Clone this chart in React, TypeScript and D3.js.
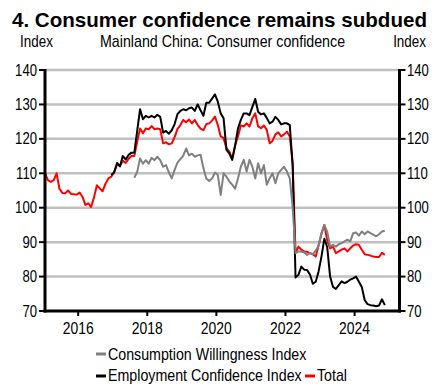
import React from "react";
import * as d3 from "d3";

// monthly, Jan 2015 .. Nov 2024 (null = not published)
const startYear = 2015;

const total = [
  110, 108, 107.5, 108, 110, 105.5, 104.3, 104.2, 105, 104, 103.9, 103.8,
  104.4, 103.2, 100.8, 101.3, 100.2, 103, 106.5, 105.6, 104.8, 107, 108.5, 109,
  110.3, 112.5, 112.2, 113.6, 113, 114.2, 115, 115, 119.2, 123, 121.6, 123,
  122.8, 123.7, 122.8, 123, 122.8, 118.7, 119, 118.4, 118.7, 120.5, 122.9, 124,
  125.5, 124.8, 125.6, 124.5, 125.5, 124, 123, 122.5, 124.3, 124.5, 125.3, 126.5,
  124, 120.7, 120.2, 117.3, 116.3, 114.2, 118.1, 120.7, 123.9, 123.6, 124.5, 123.6,
  126, 127.4, 123.6, 123.1, 123.9, 122.6, 118.7, 119.4, 121.3, 121.9, 120.7, 121.3,
  122.1, 120.7, 113, 86.8, 88.7, 87.8, 87.3, 87.2, 86.8, 86.5, 85.8, 89,
  92.5, 95, 90.5, 88.2, 88.7, 86.8, 87.3, 87.8, 88.2, 87.3, 88.2, 89,
  89.4, 89.2, 87.8, 86.5, 86.3, 86.1, 85.8, 85.7, 85.7, 86.9, 86.3,
];

const employment = [
  null, null, null, null, null, null, null, null, null, null, null, null,
  null, null, null, null, null, null, null, null, null, null, null, 109.5,
  110.3, 113, 112, 115, 114, 115.3, 116, 116, 122.3, 128.6, 125.7, 126.7,
  126.2, 126.7, 126.2, 127, 126.4, 121.8, 122.3, 121.5, 122.5, 124.3, 127.2, 128.1,
  128.6, 128.3, 128.9, 129.1, 128.1, 130, 128.3, 126.7, 130.5, 130.5, 131.7, 132.9,
  130.8, 127.4, 126, 116.8, 115.8, 113.9, 118, 123, 125.5, 127.4, 127.4, 126.9,
  129.3, 131.6, 127.9, 127.1, 127.4, 126.1, 124.5, 125, 126.4, 125.5, 124.2, 124.5,
  124.5, 124, 112, 79.7, 80.5, 82.9, 82, 81.9, 80.6, 77.9, 78.5, 81.5,
  85.8, 91, 88.5, 80, 77, 76.4, 77.5, 78.6, 78.1, 78.5, 79.1, 79.5,
  80, 78.5, 77, 73.2, 72, 71.7, 71.6, 71.4, 71.6, 73.4, 71.7,
];

const consumption = [
  null, null, null, null, null, null, null, null, null, null, null, null,
  null, null, null, null, null, null, null, null, null, null, null, null,
  null, null, null, null, null, null, null, 108.7, 110.4, 114.3, 112.8, 113.8,
  112.8, 114.5, 113.8, 114.8, 113.8, 111.9, 112.4, 110.3, 108.5, 111, 113.1, 114.1,
  115.1, 117.2, 115.2, 115.7, 114.8, 115.2, 115.4, 111.5, 108.5, 107.8, 108.5, 110.2,
  109.5, 103.7, 110, 109, 107.6, 106.7, 105.5, 108.5, 111.9, 113.9, 110.5, 113.9,
  111.9, 108.5, 112.9, 110, 112.4, 106.7, 108.5, 110, 107.1, 110, 111, 111.9,
  110.5, 108.5, 100, 86.8, 87.3, 87.3, 87, 86.3, 86.8, 86.5, 87.5, 89,
  92.5, 95, 93, 88.7, 89.2, 88.7, 89.4, 89.7, 90.2, 90.7, 90.2, 92.6,
  92.8, 91.9, 93.1, 92.3, 93.1, 92.6, 92.2, 91.7, 92.3, 93.1, 93.3,
];

const yTicks = [70, 80, 90, 100, 110, 120, 130, 140];
const xTicks = [2016, 2018, 2020, 2022, 2024];

const title = "4. Consumer confidence remains subdued";
const subtitle = "Mainland China: Consumer confidence";

const series = [
  {name: "Total", values: total, color: "#ff0000"},
  {name: "Employment Confidence Index", values: employment, color: "#000000"},
  {name: "Consumption Willingness Index", values: consumption, color: "#808080"},
];

const font = "'Liberation Sans', Arial, sans-serif";

// text squeezed horizontally around its own anchor point (Arial Narrow look)
const NText = ({x, y, size = 16, sx = 0.89, anchor = "start", dy, children}: any) => (
  <text x={x / sx} y={y} dy={dy} transform={`scale(${sx},1)`} fontSize={size} textAnchor={anchor}>
    {children}
  </text>
);

export default function App() {
  const width = 438;
  const height = 390;
  const left = 45;
  const right = 399.5;
  const top = 70;
  const bottom = 311;

  const x = d3.scaleLinear([2015.04, 2025.3], [left, right]);
  const y = d3.scaleLinear([70, 140], [bottom, top]);

  const line = d3.line<number | null>()
    .defined((d) => d != null)
    .x((_, i) => x(startYear + (i + 0.5) / 12))
    .y((d) => y(d as number));

  return (
    <svg width={width} height={height} style={{position: "absolute", left: 0, top: 0, background: "#fff"}}
         fontFamily={font}>
      <text x={12} y={27} fontWeight="bold" fontSize={21} textLength={415} lengthAdjust="spacingAndGlyphs"
            fill="#000">{title}</text>
      <NText x={20} y={47} sx={0.84}>Index</NText>
      <NText x={100} y={47}>{subtitle}</NText>
      <NText x={426} y={47} sx={0.84} anchor="end">Index</NText>

      {yTicks.filter((t) => t > 70).map((t) => (
        <line key={t} x1={left} x2={right} y1={y(t)} y2={y(t)} stroke="#c0c0c0" strokeWidth={2.5}/>
      ))}

      {series.map((s) => (
        <path key={s.name} d={line(s.values) as string} fill="none" stroke={s.color} strokeWidth={2}
              strokeLinejoin="round"/>
      ))}

      <g stroke="#000">
        <line x1={left} x2={left} y1={top - 1} y2={bottom + 1.5} strokeWidth={3}/>
        <line x1={right} x2={right} y1={top - 1} y2={bottom + 1.5} strokeWidth={3}/>
        <line x1={left - 1.5} x2={right + 1.5} y1={bottom} y2={bottom} strokeWidth={3}/>
        {yTicks.map((t) => (
          <g key={t}>
            <line x1={left - 6} x2={left} y1={y(t)} y2={y(t)} strokeWidth={2}/>
            <line x1={right} x2={right + 6} y1={y(t)} y2={y(t)} strokeWidth={2}/>
          </g>
        ))}
        {xTicks.map((t) => (
          <line key={t} x1={x(t)} x2={x(t)} y1={bottom} y2={bottom + 5} strokeWidth={2}/>
        ))}
      </g>

      <g fill="#000">
        {yTicks.map((t) => (
          <g key={t}>
            <NText x={37} y={y(t)} dy="0.35em" sx={0.82} anchor="end">{t}</NText>
            <NText x={407} y={y(t)} dy="0.35em" sx={0.82}>{t}</NText>
          </g>
        ))}
        {xTicks.map((t) => (
          <NText key={t} x={x(t)} y={334} size={17} sx={0.82} anchor="middle">{t}</NText>
        ))}
      </g>

      <g>
        <line x1={96} x2={106} y1={354} y2={354} stroke="#808080" strokeWidth={3}/>
        <NText x={108} y={360}>Consumption Willingness Index</NText>
        <line x1={96} x2={106} y1={376} y2={376} stroke="#000" strokeWidth={3}/>
        <NText x={108} y={381}>Employment Confidence Index</NText>
        <line x1={305} x2={315} y1={376} y2={376} stroke="#ff0000" strokeWidth={3}/>
        <NText x={317} y={381}>Total</NText>
      </g>
    </svg>
  );
}
